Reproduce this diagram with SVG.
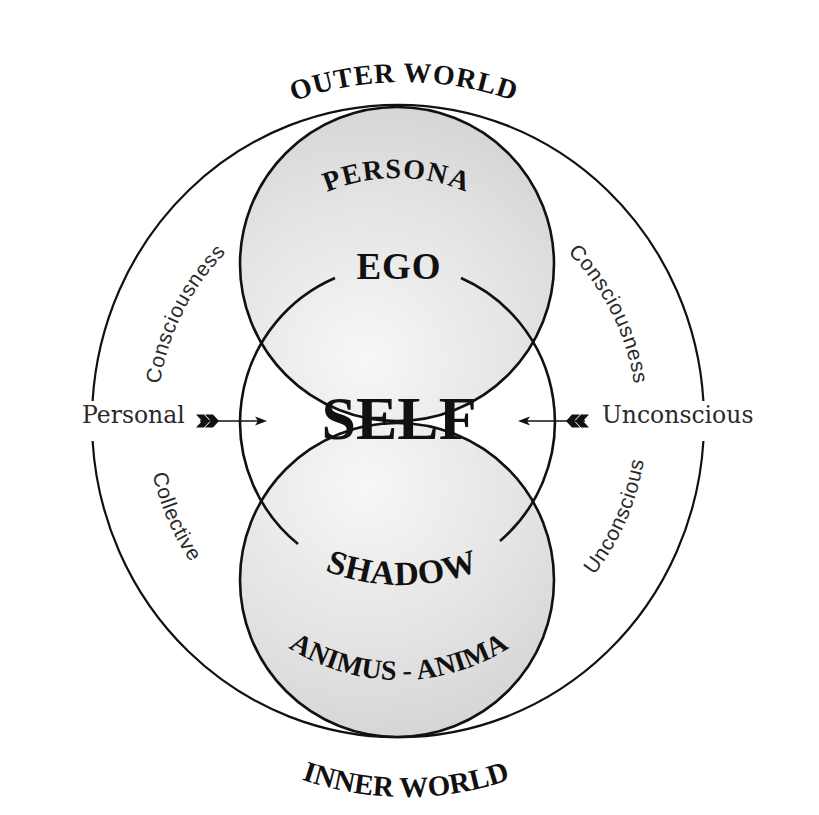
<svg xmlns="http://www.w3.org/2000/svg" xmlns:xlink="http://www.w3.org/1999/xlink" width="819" height="815" viewBox="0 0 819 815">
<style>
.ln{fill:none;stroke:#111;stroke-width:2.6}
.outer{fill:none;stroke:#111;stroke-width:2.2}
.cap{font-family:"Liberation Serif","Times New Roman",serif;font-weight:bold;fill:#111}
.side{font-family:"DejaVu Serif","Liberation Serif",serif;font-size:23.5px;fill:#2a2a2a}
.arcw{font-family:"Liberation Sans",Arial,sans-serif;font-size:21px;fill:#2a2a2a;letter-spacing:0.6px}
.arw{fill:#111}
</style>
<defs>
<radialGradient id="gTop" cx="0.4" cy="0.8" r="0.9">
<stop offset="0" stop-color="#f7f7f7"/>
<stop offset="0.55" stop-color="#e4e4e4"/>
<stop offset="1" stop-color="#d2d2d2"/>
</radialGradient>
<radialGradient id="gBot" cx="0.4" cy="0.2" r="0.9">
<stop offset="0" stop-color="#f7f7f7"/>
<stop offset="0.55" stop-color="#e4e4e4"/>
<stop offset="1" stop-color="#d2d2d2"/>
</radialGradient>
<path id="pOuter" d="M 74 412 A 330 330 0 0 1 734 412"/>
<path id="pPersona" d="M 217 358 A 180 180 0 0 1 577 358"/>
<path id="pShadow" d="M 189 372 A 213 213 0 0 0 615 372"/>
<path id="pAnimus" d="M 194 475 A 205 205 0 0 0 604 475"/>
<path id="pInner" d="M 86 477 A 320 320 0 0 0 726 477"/>
<path id="pLU" d="M 157 421 A 240 240 0 0 1 397 181"/>
<path id="pRU" d="M 397 181 A 240 240 0 0 1 637 421"/>
<path id="pLL" d="M 147 421 A 250 250 0 0 0 397 671"/>
<path id="pRL" d="M 397 671 A 250 250 0 0 0 647 421"/>
<g id="arrowShape">
<line x1="200" y1="421" x2="258" y2="421" stroke="#111" stroke-width="1.6"/>
<polygon class="arw" points="267,421 255,416.5 258,421 255,425.5"/>
<polygon class="arw" points="196,414.5 204,414.5 210,421 204,427.5 196,427.5 202,421"/>
<polygon class="arw" points="205,414.5 213,414.5 219,421 213,427.5 205,427.5 211,421"/>
</g>
</defs>

<g id="fills">
<circle cx="397" cy="264" r="157" fill="url(#gTop)"/>
<circle cx="397" cy="580" r="157" fill="url(#gBot)"/>
</g>

<g id="outer-world-circle">
<path class="outer" d="M 703.4 441 A 306 316 0 0 1 92.6 441"/>
<path class="outer" d="M 92.6 401 A 306 316 0 0 1 703.4 401"/>
</g>

<g id="persona-ego-circle">
<circle class="ln" cx="397" cy="264" r="157"/>
</g>
<g id="shadow-anima-circle">
<circle class="ln" cx="397" cy="580" r="157"/>
</g>
<g id="self-circle">
<path class="ln" d="M 461 278 A 157 157 0 0 1 500 541"/>
<path class="ln" d="M 298 544 A 157 157 0 0 1 335 278"/>
</g>

<g id="connectors">
<use href="#arrowShape" xlink:href="#arrowShape"/>
<use href="#arrowShape" xlink:href="#arrowShape" transform="translate(785,0) scale(-1,1)"/>
</g>

<g id="labels">
<text class="cap" font-size="28" letter-spacing="1"><textPath href="#pOuter" xlink:href="#pOuter" startOffset="50%" text-anchor="middle">OUTER WORLD</textPath></text>
<text class="cap" font-size="28" letter-spacing="1.5"><textPath href="#pPersona" xlink:href="#pPersona" startOffset="50%" text-anchor="middle">PERSONA</textPath></text>
<text class="cap" font-size="37" x="399" y="279" text-anchor="middle" letter-spacing="1">EGO</text>
<text class="cap" font-size="62" x="399" y="439" text-anchor="middle">SELF</text>
<text class="cap" font-size="34" letter-spacing="0.5"><textPath href="#pShadow" xlink:href="#pShadow" startOffset="50%" text-anchor="middle">SHADOW</textPath></text>
<text class="cap" font-size="28"><textPath href="#pAnimus" xlink:href="#pAnimus" startOffset="50%" text-anchor="middle">ANIMUS - ANIMA</textPath></text>
<text class="cap" font-size="29"><textPath href="#pInner" xlink:href="#pInner" startOffset="50%" text-anchor="middle">INNER WORLD</textPath></text>
<text class="side" x="82" y="423">Personal</text>
<text class="side" x="602" y="423">Unconscious</text>
<text class="arcw"><textPath href="#pLU" xlink:href="#pLU" startOffset="112" text-anchor="middle">Consciousness</textPath></text>
<text class="arcw"><textPath href="#pRU" xlink:href="#pRU" startOffset="265" text-anchor="middle">Consciousness</textPath></text>
<text class="arcw"><textPath href="#pLL" xlink:href="#pLL" startOffset="102" text-anchor="middle">Collective</textPath></text>
<text class="arcw"><textPath href="#pRL" xlink:href="#pRL" startOffset="290" text-anchor="middle">Unconscious</textPath></text>
</g>
</svg>
